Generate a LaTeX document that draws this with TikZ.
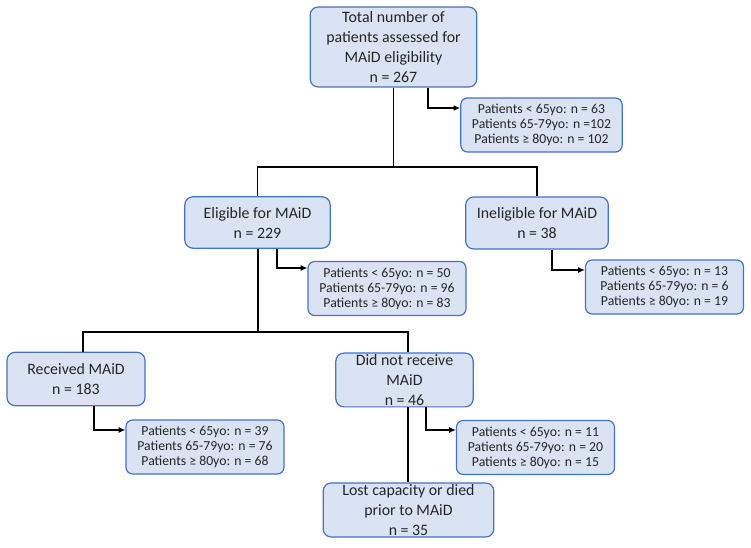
\documentclass[tikz,border=0pt]{standalone}
\usepackage{fontspec}
\setmainfont{Carlito}
\usepackage{tikz}
\usetikzlibrary{arrows.meta,positioning}
\definecolor{boksfill}{HTML}{DAE3F3}
\definecolor{boksdraw}{HTML}{4472C4}
\tikzset{
    %Define standard arrow tip
    >={Latex[length=5pt,width=4.5pt]},
    %Define style for boxes
    boks/.style={
           rectangle,
           rounded corners=6pt,
           fill=boksfill,
           draw=boksdraw, line width=0.9pt,
           inner sep=1pt,
           minimum width=105pt,
           minimum height=40pt,
           align=center,
           font=\fontsize{11.9}{15}\selectfont,
           text=black!85},
    %Define style for age boxes
    aldersboks/.style={
           boks,
           rounded corners=5pt,
           minimum width=118.5pt,
           minimum height=40.5pt,
           font=\fontsize{10.3}{11.3}\selectfont},
    % Define line styles
    linje/.style={
           black,
           line width=1.4pt},
    pil/.style={
           ->,
           black,
           line width=1.2pt}
}
\begin{document}
\begin{tikzpicture}[x=0.75pt,y=-0.75pt]
\useasboundingbox (0,0) rectangle (751,548);

 %nodes
\node[boks, minimum width=125pt, minimum height=60pt](total) at (393.5,47)
    {Total number of\\patients assessed for\\MAiD eligibility\\n = 267};
\node[aldersboks, minimum width=121pt](totalalder) at (541.5,125)
    {Patients < 65yo: n = 63\\Patients 65-79yo: n =102\\Patients ≥ 80yo: n = 102};

\node[boks, minimum width=109pt, minimum height=38.5pt](elig) at (257.5,222.5)
    {Eligible for MAiD\\n = 229};
\node[boks, minimum width=107pt, minimum height=39pt](inelig) at (537,223)
    {Ineligible for MAiD\\n = 38};
\node[aldersboks](eligalder) at (387,288.5)
    {Patients < 65yo: n = 50\\Patients 65-79yo: n = 96\\Patients ≥ 80yo: n = 83};
\node[aldersboks](ineligalder) at (664.5,287)
    {Patients < 65yo: n = 13\\Patients 65-79yo: n = 6\\Patients ≥ 80yo: n = 19};

\node[boks, minimum width=103.5pt](mottok) at (76,379)
    {Received MAiD\\n = 183};
\node[boks, minimum width=103pt](ikkemottok) at (404.5,380)
    {Did not receive\\MAiD\\n = 46};
\node[aldersboks](mottokalder) at (205,447)
    {Patients < 65yo: n = 39\\Patients 65-79yo: n = 76\\Patients ≥ 80yo: n = 68};
\node[aldersboks](ikkealder) at (535.5,447.5)
    {Patients < 65yo: n = 11\\Patients 65-79yo: n = 20\\Patients ≥ 80yo: n = 15};
\node[boks, minimum width=128pt, minimum height=40.5pt](tapt) at (408.5,510)
    {Lost capacity or died\\prior to MAiD\\n = 35};

 %junctions
\coordinate (j1) at (393.5,167);
\coordinate (j2) at (258,332);
\coordinate (j2v) at (83,332);
\coordinate (j2h) at (408,332);
\coordinate (a1) at (428,108);
\coordinate (a2) at (277,268);
\coordinate (a3) at (552,270);
\coordinate (a4) at (94,430);
\coordinate (a5) at (426,430);

 %tree lines
\draw[linje] (total) -- (j1) -| (elig);
\draw[linje] (j1) -| (inelig);
\draw[linje] (elig.south -| j2) -- (j2);
\draw[linje] (mottok.north -| j2v) -- (j2v) -- (j2h) -- (ikkemottok.north -| j2h);
\draw[linje] (ikkemottok.south -| j2h) -- (tapt.north -| j2h);

 %arrows
\draw[pil] (total.south -| a1) -- (a1) -- (a1 -| totalalder.west);
\draw[pil] (elig.south -| a2) -- (a2) -- (a2 -| eligalder.west);
\draw[pil] (inelig.south -| a3) -- (a3) -- (a3 -| ineligalder.west);
\draw[pil] (mottok.south -| a4) -- (a4) -- (a4 -| mottokalder.west);
\draw[pil] (ikkemottok.south -| a5) -- (a5) -- (a5 -| ikkealder.west);

\end{tikzpicture}
\end{document}
